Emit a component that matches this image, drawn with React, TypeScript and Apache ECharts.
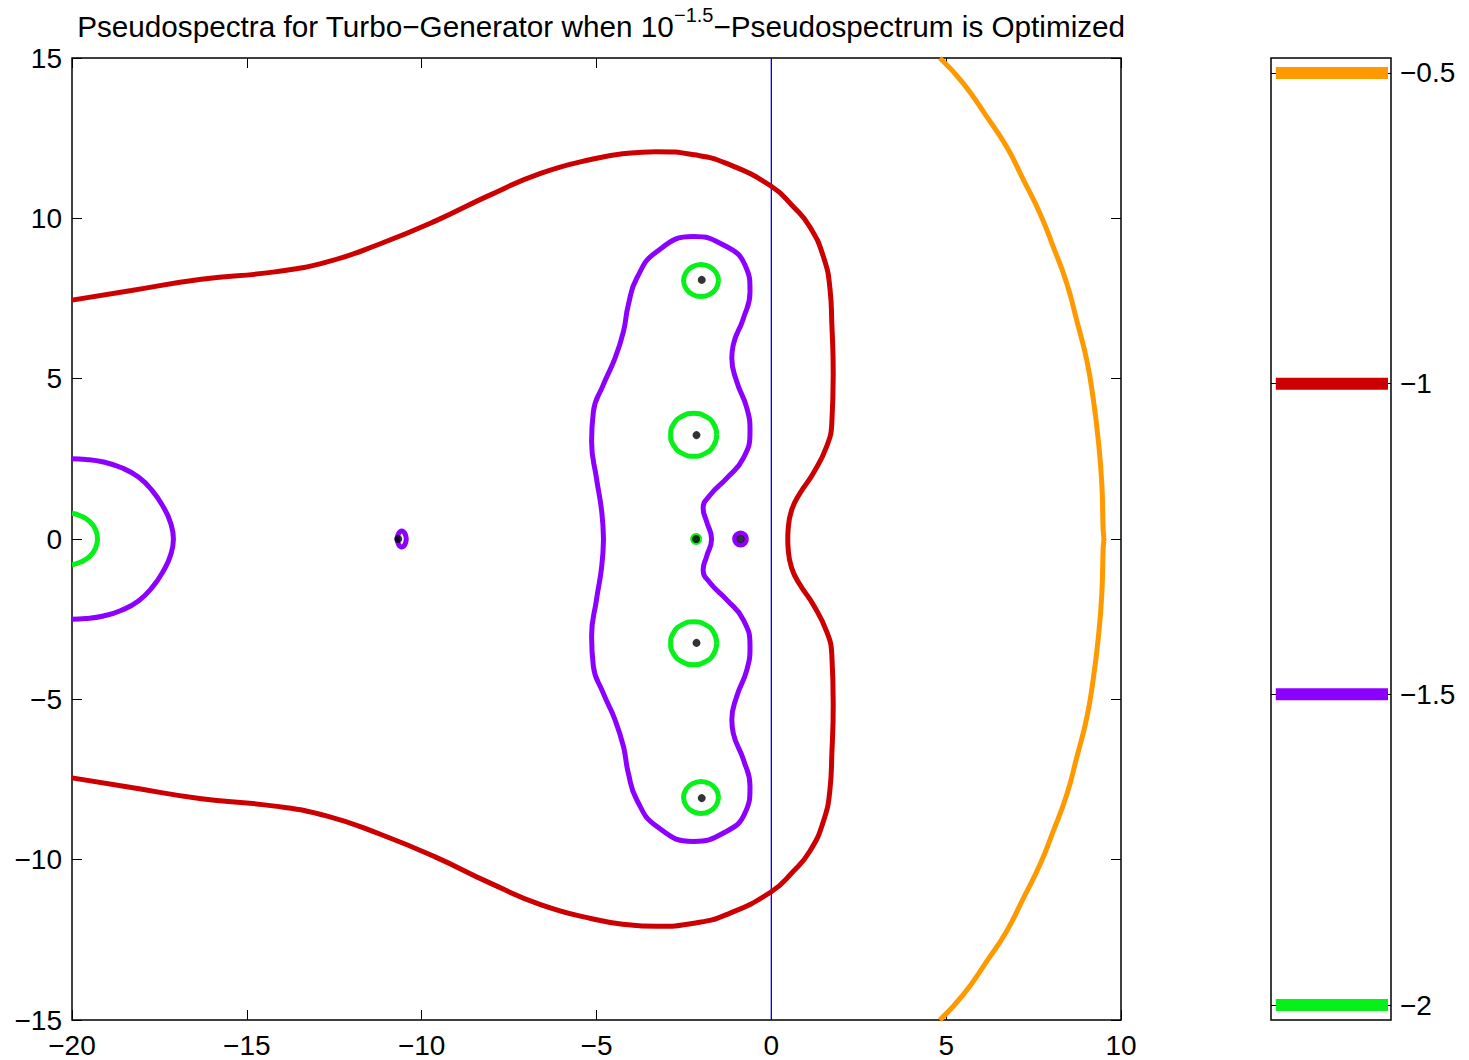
import React, { useEffect, useRef } from "react";
import * as echarts from "echarts";

type P = [number, number];

// ---- data ----
const xTicks = [-20, -15, -10, -5, 0, 5, 10];
const yTicks = [-15, -10, -5, 0, 5, 10, 15];

// contour level -1 (upper half, left to right)
const redUpper: P[] = [
  [-20, 7.45], [-18.3, 7.75], [-16.3, 8.1], [-14.2, 8.33], [-12.7, 8.64], [-11.2, 9.2],
  [-9.6, 9.92], [-8.1, 10.7], [-6.6, 11.4], [-5.1, 11.85], [-4.1, 12.03], [-3.3, 12.08],
  [-2.2, 11.98], [-1.3, 11.72], [0, 11.0], [0.63, 10.36], [1.1, 9.74], [1.49, 8.8],
  [1.68, 7.77], [1.73, 6.73], [1.77, 5.17], [1.73, 3.61], [1.58, 2.88], [1.2, 2.05],
  [0.82, 1.43], [0.58, 0.9], [0.48, 0.28], [0.47, 0],
];

// contour level -1.5, big lobe (upper half)
const purpleUpper: P[] = [
  [-4.8, 0], [-4.85, 0.85], [-5.0, 1.89], [-5.14, 3.03], [-5.09, 3.97], [-4.81, 4.8],
  [-4.47, 5.64], [-4.23, 6.47], [-4.09, 7.3], [-3.85, 8.13], [-3.28, 8.96], [-2.23, 9.43],
  [-1.37, 9.17], [-0.75, 8.54], [-0.61, 7.71], [-0.8, 6.88], [-1.09, 6.05], [-1.13, 5.64],
  [-0.99, 4.91], [-0.7, 4.08], [-0.61, 3.35], [-0.8, 2.52], [-1.28, 1.89], [-1.75, 1.37],
  [-1.95, 0.96], [-1.85, 0.54], [-1.71, 0],
];

// contour level -1.5 at the left edge (upper half)
const purpleLeftUpper: P[] = [
  [-20, 2.5], [-19.6, 2.48], [-19.1, 2.4], [-18.6, 2.23], [-18.1, 1.93], [-17.7, 1.5],
  [-17.38, 0.98], [-17.18, 0.5], [-17.1, 0],
];

// contour level -2 at the left edge (upper half)
const greenLeftUpper: P[] = [
  [-20, 0.8], [-19.75, 0.72], [-19.5, 0.55], [-19.33, 0.3], [-19.27, 0],
];

// contour level -0.5 (upper half)
const orangeUpper: P[] = [
  [4.82, 15], [5.49, 14.21], [6.16, 13.17], [6.73, 12.23], [7.21, 11.2], [7.68, 10.16],
  [8.06, 9.12], [8.45, 7.97], [8.73, 6.83], [9.02, 5.58], [9.21, 4.34], [9.35, 3.09],
  [9.45, 1.74], [9.49, 0.28], [9.51, 0],
];

// small contour loops (level -2)
const greenRingTop: P[] = [
  [-1.51, 8.06], [-1.58, 8.31], [-1.76, 8.49], [-2.01, 8.56], [-2.26, 8.49], [-2.44, 8.31],
  [-2.51, 8.06], [-2.44, 7.81], [-2.26, 7.63], [-2.01, 7.56], [-1.76, 7.63], [-1.58, 7.81],
  [-1.51, 8.06],
];
const greenRingMid: P[] = [
  [-1.56, 3.25], [-1.65, 3.59], [-1.89, 3.83], [-2.22, 3.92], [-2.55, 3.83], [-2.79, 3.59],
  [-2.88, 3.25], [-2.79, 2.91], [-2.55, 2.67], [-2.22, 2.58], [-1.89, 2.67], [-1.65, 2.91],
  [-1.56, 3.25],
];
const greenRingAxis: P[] = [
  [-2.05, 0], [-2.08, 0.08], [-2.15, 0.11], [-2.22, 0.08], [-2.25, 0], [-2.22, -0.08],
  [-2.15, -0.11], [-2.08, -0.08], [-2.05, 0],
];
// small contour loops (level -1.5)
const purpleRingRight: P[] = [
  [-0.71, 0], [-0.76, 0.13], [-0.88, 0.19], [-1.0, 0.13], [-1.05, 0], [-1.0, -0.13],
  [-0.88, -0.19], [-0.76, -0.13], [-0.71, 0],
];
const purpleRingFar: P[] = [
  [-10.44, 0], [-10.48, 0.17], [-10.57, 0.25], [-10.66, 0.17], [-10.7, 0], [-10.66, -0.17],
  [-10.57, -0.25], [-10.48, -0.17], [-10.44, 0],
];

// eigenvalues
const eigenvalues: P[] = [
  [-1.99, 8.08], [-2.14, 3.24], [-2.15, 0], [-0.88, 0], [-10.67, 0], [-2.14, -3.24], [-1.99, -8.08],
];

// imaginary axis reference line
const imagAxis: P[] = [[0, -15], [0, 15]];

// colorbar
const cbLevels = [-0.5, -1, -1.5, -2];
const cbColors = ["#FF9900", "#CC0000", "#8C00FF", "#08F01A"];
const cbRange = [-2.024, -0.476];
const cbBarX = [0.04, 0.975];

// ---- helpers ----
const mirrorBack = (pts: P[]): P[] => pts.slice().reverse().map(([x, y]) => [x, -y] as P);
const closed = (upper: P[]): P[] => [...upper, ...mirrorBack(upper)];
const flipY = (pts: P[]): P[] => pts.map(([x, y]) => [x, -y] as P);
const minus = (v: number | string) => String(v).replace(/-/g, "\u2212");

const FONT = "'Liberation Sans', Arial, Helvetica, sans-serif";
const [ORANGE, RED, PURPLE, GREEN] = cbColors;

export default function App() {
  const ref = useRef<HTMLDivElement>(null);
  useEffect(() => {
    document.body.style.margin = "0";
    const chart = echarts.init(ref.current!, null, { renderer: "svg" });
    const W = 5;
    const contour = (data: P[], color: string) => ({
      type: "line",
      data,
      xAxisIndex: 0,
      yAxisIndex: 0,
      showSymbol: false,
      symbol: "none",
      smooth: 0.5,
      lineStyle: { color, width: W },
      clip: true,
      silent: true,
      z: 3,
    });
    const main = { xAxisIndex: 0, yAxisIndex: 0 };
    const tickStyle = { lineStyle: { color: "#000", width: 1 } };
    const noLine = { show: false, onZero: false };
    const label = { fontFamily: FONT, fontSize: 28, color: "#000", formatter: minus };
    const option: any = {
      animation: false,
      backgroundColor: "#fff",
      title: {
        text: "{a|Pseudospectra for Turbo\u2212Generator when 10}{b|\u22121.5}{a|\u2212Pseudospectrum is Optimized}",
        left: 596,
        top: 0,
        textAlign: "center",
        textStyle: {
          fontWeight: "normal",
          rich: {
            a: { fontFamily: FONT, fontSize: 29.7, fontWeight: "normal", color: "#000", lineHeight: 36, verticalAlign: "bottom" },
            b: { fontFamily: FONT, fontSize: 20, fontWeight: "normal", color: "#000", lineHeight: 36, verticalAlign: "top" },
          },
        },
      },
      grid: [
        { left: 72, top: 58, width: 1049, height: 962, show: true, borderColor: "#000", borderWidth: 1.5, backgroundColor: "#fff" },
        { left: 1271, top: 58, width: 120, height: 962, show: true, borderColor: "#000", borderWidth: 1.5, backgroundColor: "#fff" },
      ],
      xAxis: [
        {
          type: "value", gridIndex: 0, min: -20, max: 10, interval: 5, position: "bottom",
          axisLine: noLine, splitLine: { show: false },
          axisTick: { show: true, inside: true, length: 10, ...tickStyle, customValues: xTicks },
          axisLabel: { show: true, ...label, margin: 11, customValues: xTicks },
        },
        {
          type: "value", gridIndex: 0, min: -20, max: 10, interval: 5, position: "top",
          axisLine: noLine, splitLine: { show: false },
          axisTick: { show: true, inside: true, length: 10, ...tickStyle },
          axisLabel: { show: false },
        },
        {
          type: "value", gridIndex: 1, min: 0, max: 1, show: false, axisLine: noLine,
        },
      ],
      yAxis: [
        {
          type: "value", gridIndex: 0, min: -15, max: 15, interval: 5, position: "left",
          axisLine: noLine, splitLine: { show: false },
          axisTick: { show: true, inside: true, length: 10, ...tickStyle, customValues: yTicks },
          axisLabel: { show: true, ...label, margin: 10, customValues: yTicks },
        },
        {
          type: "value", gridIndex: 0, min: -15, max: 15, interval: 5, position: "right",
          axisLine: noLine, splitLine: { show: false },
          axisTick: { show: true, inside: true, length: 10, ...tickStyle },
          axisLabel: { show: false },
        },
        {
          type: "value", gridIndex: 1, min: cbRange[0], max: cbRange[1], position: "right",
          axisLine: noLine, splitLine: { show: false },
          axisTick: { show: true, inside: true, length: 6, ...tickStyle, customValues: cbLevels },
          axisLabel: { show: true, ...label, margin: 9, customValues: cbLevels },
        },
        {
          type: "value", gridIndex: 1, min: cbRange[0], max: cbRange[1], position: "left",
          axisLine: noLine, splitLine: { show: false },
          axisTick: { show: true, inside: true, length: 6, ...tickStyle, customValues: cbLevels },
          axisLabel: { show: false },
        },
      ],
      series: [
        {
          type: "line", ...main, data: imagAxis, showSymbol: false, symbol: "none",
          lineStyle: { color: "#0000FF", width: 1.3 }, silent: true, z: 2,
        },
        contour(closed(orangeUpper), ORANGE),
        contour(closed(redUpper), RED),
        contour(closed(purpleUpper), PURPLE),
        contour(closed(purpleLeftUpper), PURPLE),
        contour(closed(greenLeftUpper), GREEN),
        contour(greenRingTop, GREEN),
        contour(greenRingMid, GREEN),
        contour(flipY(greenRingMid), GREEN),
        contour(flipY(greenRingTop), GREEN),
        contour(greenRingAxis, GREEN),
        contour(purpleRingRight, PURPLE),
        contour(purpleRingFar, PURPLE),
        {
          type: "scatter", ...main, data: eigenvalues, symbol: "circle", symbolSize: 8,
          itemStyle: { color: "#000" }, silent: true, z: 5,
        },
        ...cbLevels.map((lv, i) => ({
          type: "line", xAxisIndex: 2, yAxisIndex: 2,
          data: cbBarX.map((x) => [x, lv]),
          showSymbol: false, symbol: "none",
          lineStyle: { color: cbColors[i], width: 12, cap: "butt" },
          silent: true, z: 3,
        })),
      ],
    };
    chart.setOption(option);
    return () => chart.dispose();
  }, []);
  return <div ref={ref} style={{ width: 1469, height: 1060 }} />;
}
